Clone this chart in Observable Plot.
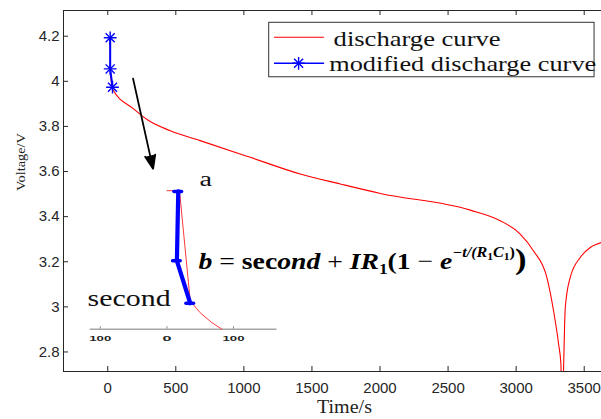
<!DOCTYPE html>
<html>
<head>
<meta charset="utf-8">
<script src="https://cdn.jsdelivr.net/npm/d3@7"></script>
<script src="https://cdn.jsdelivr.net/npm/@observablehq/plot@0.6"></script>
<style>
  html, body { margin: 0; padding: 0; background: #fff; }
  #chart svg { display: block; }
</style>
</head>
<body>
<div id="chart"></div>
<script>
// ---------- data ----------
const xTicks = [0, 500, 1000, 1500, 2000, 2500, 3000, 3500];
const yTicks = [2.8, 3, 3.2, 3.4, 3.6, 3.8, 4, 4.2];

// discharge curve (time s, voltage V)
const curveTime = [17, 19, 35, 190, 300, 459, 679, 1047, 1414, 1708, 2003, 2663, 2883, 3030, 3128, 3226, 3275, 3312, 3329, 3336, 3348, 3361, 3397, 3471, 3544, 3625];
const curveVolt = [4.193, 4.055, 3.966, 3.878, 3.826, 3.781, 3.737, 3.663, 3.589, 3.545, 3.503, 3.429, 3.382, 3.323, 3.248, 3.130, 2.982, 2.834, 2.745, 2.40, 2.715, 2.997, 3.130, 3.219, 3.263, 3.285];

// modified discharge curve
const modTime = [18, 18, 35];
const modVolt = [4.193, 4.055, 3.974];

// inset (zoomed detail), placed in chart coordinates
const insetRedTime = [435, 527, 606, 679, 765, 839];
const insetRedVolt = [3.515, 3.515, 3.026, 2.974, 2.930, 2.901];
const insetBlueTime = [518, 508, 606];
const insetBlueVolt = [3.512, 3.204, 3.016];
const insetAxisTime = [-129, 1243];
const insetAxisVolt = 2.901;
const insetTickTime = [-55, 435, 924];
const insetTickLabels = ["100", "0", "100"];

// texts
const legendLabels = ["discharge curve", "modified discharge curve"];
const xLabel = "Time/s";
const yLabel = "Voltage/V";
const labelA = "a";
const labelSecond = "second";
const formulaText = "b = second + IR1(1 − e−t/(R1C1))";

// ---------- build tables ----------
const curve = curveTime.map((t, i) => ({t, v: curveVolt[i]}));
const mod = modTime.map((t, i) => ({t, v: modVolt[i]}));
const insetRed = insetRedTime.map((t, i) => ({t, v: insetRedVolt[i]}));
const insetBlue = insetBlueTime.map((t, i) => ({t, v: insetBlueVolt[i]}));
const insetTicks = insetTickTime.map((t, i) => ({t, label: insetTickLabels[i]}));

// annotation anchors (chart coordinates)
const legendBox = {x1: 1186, x2: 3576, y1: 4.018, y2: 4.2595};
const legendRows = [
  {label: legendLabels[0], x1: 1225, x2: 1593, xm: 1402, y: 4.1956, ty: 4.1587, tx: 1659, color: "#ff0000", star: false},
  {label: legendLabels[1], x1: 1225, x2: 1593, xm: 1402, y: 4.080, ty: 4.0446, tx: 1627, color: "#0000ff", star: true}
];
const arrowData = [{x1: 186, y1: 4.012, x2: 333, y2: 3.612}];

const W = 601, H = 419;
const mT = 10, mB = 48, mL = 63, mR = 0;
const innerW = W - mL - mR, innerH = H - mT - mB;
const xDomain = [-325, 3627];
const yDomain = [2.7134, 4.314];

const serif = "'Liberation Serif', 'Times New Roman', serif";
const sans = "'Liberation Sans', Arial, sans-serif";

const plot = Plot.plot({
  width: W, height: H,
  marginTop: mT, marginBottom: mB, marginLeft: mL, marginRight: mR,
  style: {fontFamily: sans, fontSize: "15px", color: "#262626", background: "#fff"},
  x: {domain: xDomain},
  y: {domain: yDomain},
  marks: [
    // inset axis
    Plot.ruleY([insetAxisVolt], {x1: insetAxisTime[0], x2: insetAxisTime[1], stroke: "#a6a6a6", strokeWidth: 1.6}),
    Plot.ruleX(insetTicks, {x: "t", y1: insetAxisVolt, y2: insetAxisVolt + 0.011, stroke: "#8c8c8c", strokeWidth: 1}),
    Plot.text(insetTicks, {x: "t", y: insetAxisVolt - 0.04, text: "label", fontSize: 8, fontWeight: "bold", fontFamily: sans, fill: "#222", ariaDescription: "inset-labels"}),
    // inset curves
    Plot.line(insetRed, {x: "t", y: "v", stroke: "#ff3b3b", strokeWidth: 1, curve: "linear"}),
    Plot.line(insetBlue, {x: "t", y: "v", stroke: "#0000ff", strokeWidth: 4.2, strokeLinejoin: "round"}),
    Plot.ruleY(insetBlue, {y: "v", x1: d => d.t - 28, x2: d => d.t + 28, stroke: "#0000ff", strokeWidth: 3.5, strokeLinecap: "round"}),

    // main discharge curve
    Plot.line(curve, {x: "t", y: "v", stroke: "#ff0000", strokeWidth: 1.1, curve: "monotone-x", clip: true}),
    // modified curve
    Plot.line(mod, {x: "t", y: "v", stroke: "#0000ff", strokeWidth: 2}),
    Plot.dot(mod, {x: "t", y: "v", symbol: "plus", r: 4.2, stroke: "#0000ff", strokeWidth: 1.4}),
    Plot.dot(mod, {x: "t", y: "v", symbol: "times", r: 4.2, stroke: "#0000ff", strokeWidth: 1.4}),

    // arrow
    Plot.arrow(arrowData, {x1: "x1", y1: "y1", x2: "x2", y2: "y2", stroke: "#000", strokeWidth: 1.8, headLength: 12, headAngle: 42, ariaDescription: "pointer"}),

    // annotations
    Plot.text([labelA], {x: 674, y: 3.537, text: d => d, textAnchor: "start", lineAnchor: "bottom", fontFamily: serif, fontSize: 20, fill: "#111"}),
    Plot.text([labelSecond], {x: -148, y: 3.004, text: d => d, textAnchor: "start", lineAnchor: "bottom", fontFamily: serif, fontSize: 23, fill: "#111"}),
    Plot.text([formulaText], {x: 667, y: 3.167, text: d => d, textAnchor: "start", lineAnchor: "bottom", fontFamily: serif, fontSize: 24, fontWeight: "bold", fill: "#000"}),

    // legend
    Plot.rect([legendBox], {x1: "x1", x2: "x2", y1: "y1", y2: "y2", fill: "#fff", stroke: "#333", strokeWidth: 1}),
    Plot.ruleY(legendRows, {y: "y", x1: "x1", x2: "x2", stroke: "color", strokeWidth: d => d.star ? 1.6 : 1.1}),
    Plot.dot(legendRows.filter(d => d.star), {x: "xm", y: "y", symbol: "plus", r: 4.2, stroke: "#0000ff", strokeWidth: 1.4}),
    Plot.dot(legendRows.filter(d => d.star), {x: "xm", y: "y", symbol: "times", r: 4.2, stroke: "#0000ff", strokeWidth: 1.4}),
    Plot.text(legendRows, {x: "tx", y: "ty", text: "label", textAnchor: "start", lineAnchor: "bottom", fontFamily: serif, fontSize: 21, fill: "#111"}),

    // frame (left, bottom, top)
    Plot.ruleX([xDomain[0]], {stroke: "#262626", strokeWidth: 1}),
    Plot.ruleY([yDomain[0]], {stroke: "#262626", strokeWidth: 1}),
    Plot.ruleY([yDomain[1]], {stroke: "#262626", strokeWidth: 1}),
    // inward ticks
    Plot.tickX(xTicks, {x: d => d, insetTop: innerH - 5, stroke: "#262626"}),
    Plot.tickX(xTicks, {x: d => d, insetBottom: innerH - 5, stroke: "#262626"}),
    Plot.tickY(yTicks, {y: d => d, insetRight: innerW - 5, stroke: "#262626"}),
    // tick labels
    Plot.axisX({ticks: xTicks, tickSize: 0, tickPadding: 11, label: null, tickFormat: d => String(d), fontSize: 15}),
    Plot.axisY({ticks: yTicks, tickSize: 0, tickPadding: 4, label: null, tickFormat: d => String(d), fontSize: 15}),
    // axis titles
    Plot.text([xLabel], {frameAnchor: "bottom", dx: 12, dy: 41, text: d => d, lineAnchor: "bottom", fontFamily: serif, fontSize: 18, fill: "#222"}),
    Plot.text([yLabel], {frameAnchor: "left", dx: -43, rotate: -90, text: d => d, fontFamily: serif, fontSize: 13, fill: "#222"})
  ]
});

document.getElementById("chart").append(plot);

// horizontal stretch of labels to match the reference widths (matched by content)
const targetWidths = {
  "discharge curve": 167, "modified discharge curve": 267,
  "second": 83, "a": 12.5, "Time/s": 55, "Voltage/V": 58
};
const insetWidths = {"100": 22, "0": 9};
plot.querySelectorAll("text").forEach(t => {
  const inInset = t.closest('g[aria-description="inset-labels"]');
  const w = inInset ? insetWidths[t.textContent] : targetWidths[t.textContent];
  if (w) { t.setAttribute("textLength", w); t.setAttribute("lengthAdjust", "spacingAndGlyphs"); }
});

// filled arrow head (the head sub-path closes into a triangle)
plot.querySelectorAll('g[aria-description="pointer"] path').forEach(p => {
  p.setAttribute("fill", "#000");
  p.setAttribute("stroke-linejoin", "miter");
});

// rich formatting for the formula
const formulaParts = [
  {s: "b", i: true, b: true},
  {s: " = ", b: false},
  {s: "sec", b: true},
  {s: "ond", i: true, b: true},
  {s: " + ", b: false},
  {s: "IR", i: true, b: true},
  {s: "1", b: true, fs: 15, dy: 5},
  {s: "(1", b: true, fs: 24, dy: -5},
  {s: " − ", b: false},
  {s: "e", i: true, b: true},
  {s: "−t/(", i: true, b: true, fs: 14, dy: -12},
  {s: "R", i: true, b: true, fs: 14},
  {s: "1", b: true, fs: 10, dy: 3},
  {s: "C", i: true, b: true, fs: 14, dy: -3},
  {s: "1", b: true, fs: 10, dy: 3},
  {s: ")", b: true, fs: 14, dy: -3},
  {s: ")", b: true, fs: 30, dy: 12}
];
const ftext = Array.from(plot.querySelectorAll("text")).find(t => t.textContent === formulaText);
if (ftext) {
  const sel = d3.select(ftext);
  sel.text(null);
  formulaParts.forEach(p => {
    const ts = sel.append("tspan").text(p.s);
    ts.attr("font-weight", p.b ? "bold" : "normal");
    ts.attr("font-style", p.i ? "italic" : "normal");
    if (p.fs) ts.attr("font-size", p.fs);
    if (p.dy) ts.attr("dy", p.dy);
  });
  sel.attr("textLength", 328).attr("lengthAdjust", "spacingAndGlyphs");
}
</script>
</body>
</html>
